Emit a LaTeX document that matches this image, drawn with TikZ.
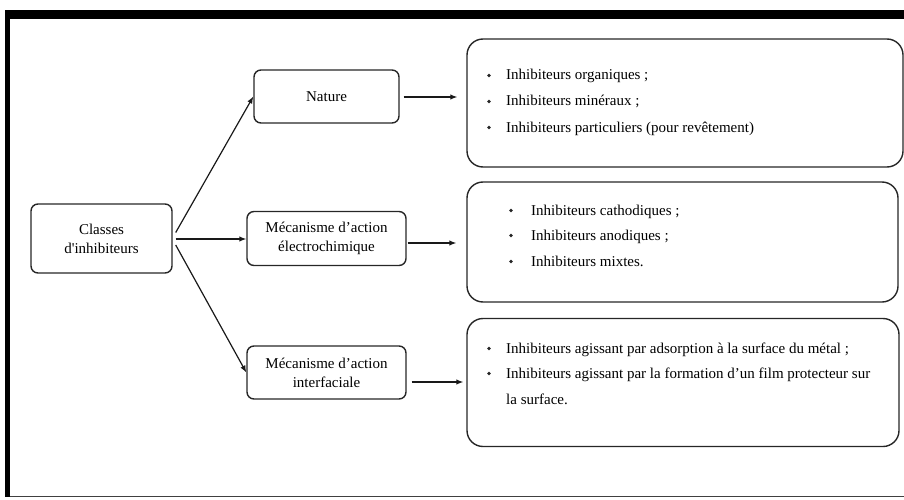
\documentclass[tikz,border=0pt]{standalone}
\usepackage{fontspec}
\setmainfont{Liberation Serif}
\usetikzlibrary{arrows.meta,calc}
\begin{document}
\begin{tikzpicture}[x=1pt,y=-1pt,
  txt/.style={font=\fontsize{15}{19}\selectfont},
  sbox/.style={txt, draw=black!85, line width=1.4pt, rounded corners=7pt, align=center, inner sep=0pt},
  bbox/.style={draw=black!85, line width=1.4pt, rounded corners=16pt, inner sep=0pt},
  item/.style={txt, anchor=base west, inner sep=0pt},
  bul/.style={circle, fill=black!85, inner sep=0pt, minimum size=3.8pt},
  conn/.style={line width=1.2pt, draw=black!90},
  arr/.style={conn, -{Latex[length=7pt,width=5.5pt]}}]
\useasboundingbox (0,0) rectangle (904,500);
% frame
\fill (5,10) rectangle (904,19);
\fill (5,10) rectangle (10,497);
\draw[line width=1.2pt, black!75] (10,496.5) -- (904,496.5);
% small boxes
\node[sbox, minimum width=141pt, minimum height=69pt] (classes) at (101.5,238.5) {Classes\\d\textquotesingle inhibiteurs};
\node[sbox, minimum width=145pt, minimum height=53pt] (nature) at (326.5,96.5) {Nature};
\node[sbox, minimum width=159pt, minimum height=54pt] (elec) at (326.5,238.5) {Mécanisme d’action\\électrochimique};
\node[sbox, minimum width=159pt, minimum height=53pt] (inter) at (326.5,372.5) {Mécanisme d’action\\interfaciale};
% big boxes
\node[bbox, minimum width=436pt, minimum height=128pt] (box1) at (685,103) {};
\node[bbox, minimum width=431pt, minimum height=120pt] (box2) at (682.5,242) {};
\node[bbox, minimum width=432pt, minimum height=128pt] (box3) at (683,382.5) {};
% box 1 items
\node[bul] (b11) at (489,75.5) {};
\node[item] (t11) at (506,80) {Inhibiteurs organiques ;};
\node[bul] (b12) at (489,101.5) {};
\node[item] (t12) at (506,106) {Inhibiteurs minéraux ;};
\node[bul] (b13) at (489,127.5) {};
\node[item] (t13) at (506,132) {Inhibiteurs particuliers (pour revêtement)};
% box 2 items
\node[bul] (b21) at (511,210.5) {};
\node[item] (t21) at (531,215) {Inhibiteurs cathodiques ;};
\node[bul] (b22) at (511,235.5) {};
\node[item] (t22) at (531,240) {Inhibiteurs anodiques ;};
\node[bul] (b23) at (511,261.5) {};
\node[item] (t23) at (531,266) {Inhibiteurs mixtes.};
% box 3 items
\node[bul] (b31) at (489,348.5) {};
\node[item] (t31) at (506,353) {Inhibiteurs agissant par adsorption à la surface du métal ;};
\node[bul] (b32) at (489,373.5) {};
\node[item] (t32) at (506,378) {Inhibiteurs agissant par la formation d’un film protecteur sur};
\node[item] (t33) at (506,404) {la surface.};
% connectors
\coordinate (c1) at ($(classes.east)+(3,-6)$);
\coordinate (c2) at ($(classes.east)+(3,0.5)$);
\coordinate (c3) at ($(classes.east)+(3,6.5)$);
\draw[arr] (c1) -- (nature.west);
\draw[arr] (c2) -- (c2 -| elec.west);
\draw[arr] (c3) -- (inter.west);
\coordinate (n1) at ($(nature.east)+(4,0.5)$);
\coordinate (e1) at ($(elec.east)+(1,4.5)$);
\coordinate (i1) at ($(inter.east)+(5,9.5)$);
\draw[arr, shorten >=9pt] (n1) -- (n1 -| box1.west);
\draw[arr, shorten >=10pt] (e1) -- (e1 -| box2.west);
\draw[arr, shorten >=3pt] (i1) -- (i1 -| box3.west);
\end{tikzpicture}
\end{document}
